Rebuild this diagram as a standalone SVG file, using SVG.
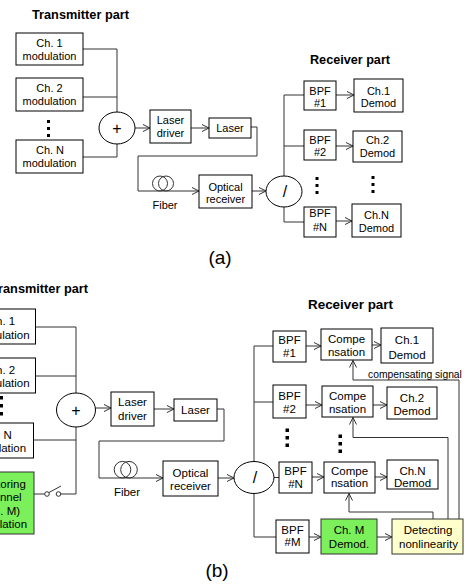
<svg xmlns="http://www.w3.org/2000/svg" width="464" height="585" viewBox="0 0 464 585">
<style>
.box{fill:#fff;stroke:#000;stroke-width:1}
.green{fill:#7cf05a;stroke:#333;stroke-width:1}
.yellow{fill:#ffffcc;stroke:#333;stroke-width:1}
.ln{fill:none;stroke:#333;stroke-width:1}
.arr{marker-end:url(#ah)}
.dot{fill:#000}
text{font-family:"Liberation Sans",Arial,sans-serif;fill:#000}
.t{font-size:11px;text-anchor:middle}
.tb{font-size:11.5px;text-anchor:middle}
.title{font-size:12px;font-weight:bold}
.cap{font-size:19px;text-anchor:middle}
.sym{font-size:16px;text-anchor:middle}
</style>
<defs>
<marker id="ah" markerUnits="userSpaceOnUse" viewBox="0 0 8 8" refX="7.5" refY="4" markerWidth="8" markerHeight="8" orient="auto">
<path d="M0.5,0.5 L7.5,4 L0.5,7.5" fill="none" stroke="#333" stroke-width="1"/>
</marker>
</defs>

<!-- ===== (a) ===== -->
<text class="title" x="32" y="19" textLength="97" lengthAdjust="spacingAndGlyphs">Transmitter part</text>
<text class="title" x="310" y="64" textLength="80" lengthAdjust="spacingAndGlyphs">Receiver part</text>

<g id="a-connectors">
<path class="ln" d="M83,49 H117 V112"/>
<path class="ln" d="M83,97 H117"/>
<path class="ln" d="M83,157 H117 V144"/>
<path class="ln arr" d="M135,128 H150"/>
<path class="ln arr" d="M191,128 H209"/>
<path class="ln arr" d="M251,127 H257 V156 H138 V191 H199"/>
<path class="ln arr" d="M252,191 H266"/>
<path class="ln" d="M284,176 V95 H304"/>
<path class="ln" d="M284,146 H304"/>
<path class="ln" d="M284,207 V222 H304"/>
<path class="ln arr" d="M336,95 H354"/>
<path class="ln arr" d="M336,146 H353"/>
<path class="ln arr" d="M336,221 H352"/>
</g>

<g id="a-ch1mod"><rect class="box" x="16" y="33" width="67" height="32"/><text class="t" x="49.5" y="47">Ch. 1</text><text class="t" x="49.5" y="60">modulation</text></g>
<g id="a-ch2mod"><rect class="box" x="16" y="78" width="67" height="33"/><text class="t" x="49.5" y="92">Ch. 2</text><text class="t" x="49.5" y="105">modulation</text></g>
<g id="a-txdots"><rect class="dot" x="47" y="120" width="3" height="3"/><rect class="dot" x="47" y="127" width="3" height="3"/><rect class="dot" x="47" y="134" width="3" height="3"/></g>
<g id="a-chNmod"><rect class="box" x="16" y="140" width="67" height="33"/><text class="t" x="50" y="154">Ch. N</text><text class="t" x="49.5" y="167">modulation</text></g>
<g id="a-sum"><ellipse class="box" cx="117" cy="128" rx="18" ry="16"/><text class="sym" x="117" y="134">+</text></g>
<g id="a-driver"><rect class="box" x="150" y="110" width="41" height="33"/><text class="t" x="170.5" y="124">Laser</text><text class="t" x="170.5" y="137">driver</text></g>
<g id="a-laser"><rect class="box" x="209" y="118" width="42" height="20"/><text class="t" x="230" y="132">Laser</text></g>
<g id="a-fiber"><circle class="ln" cx="160" cy="183.5" r="7.5"/><circle class="ln" cx="166" cy="183.5" r="7.5"/><text class="t" x="165" y="209">Fiber</text></g>
<g id="a-optrx"><rect class="box" x="199" y="175" width="53" height="33"/><text class="t" x="225.5" y="190.5">Optical</text><text class="t" x="225.5" y="203">receiver</text></g>
<g id="a-split"><ellipse class="box" cx="284" cy="191.5" rx="18" ry="15.5"/><text class="sym" x="285" y="197">/</text></g>
<g id="a-bpf1"><rect class="box" x="304" y="81" width="32" height="29"/><text class="t" x="320" y="94.5">BPF</text><text class="t" x="320" y="106.5">#1</text></g>
<g id="a-bpf2"><rect class="box" x="304" y="130" width="32" height="30"/><text class="t" x="320" y="143.5">BPF</text><text class="t" x="320" y="155.5">#2</text></g>
<g id="a-bpfdots"><rect class="dot" x="315.5" y="177" width="3" height="3"/><rect class="dot" x="315.5" y="184" width="3" height="3"/><rect class="dot" x="315.5" y="191" width="3" height="3"/></g>
<g id="a-bpfN"><rect class="box" x="304" y="207" width="32" height="30"/><text class="t" x="320" y="217">BPF</text><text class="t" x="320" y="231">#N</text></g>
<g id="a-dem1"><rect class="box" x="354" y="79" width="49" height="33"/><text class="t" x="378.5" y="94.5">Ch.1</text><text class="t" x="378.5" y="107">Demod</text></g>
<g id="a-dem2"><rect class="box" x="353" y="131" width="49" height="31"/><text class="t" x="377.5" y="143.5">Ch.2</text><text class="t" x="377.5" y="157">Demod</text></g>
<g id="a-demdots"><rect class="dot" x="371.5" y="176" width="3" height="3"/><rect class="dot" x="371.5" y="183" width="3" height="3"/><rect class="dot" x="371.5" y="190" width="3" height="3"/></g>
<g id="a-demN"><rect class="box" x="352" y="204" width="49" height="33"/><text class="t" x="376.5" y="219">Ch.N</text><text class="t" x="376.5" y="232">Demod</text></g>
<text class="cap" x="220" y="264">(a)</text>

<!-- ===== (b) ===== -->
<text class="title" x="-9" y="293" textLength="97" lengthAdjust="spacingAndGlyphs">Transmitter part</text>
<text class="title" x="308" y="309" textLength="85" lengthAdjust="spacingAndGlyphs">Receiver part</text>

<g id="b-connectors">
<path class="ln" d="M35,327 H76 V393"/>
<path class="ln" d="M35,376 H76"/>
<path class="ln" d="M33.5,440 H76"/>
<path class="ln" d="M76,427 V494 H60.8"/>
<path class="ln" d="M34,494 H44.7"/>
<path class="ln arr" d="M95.5,408 H111"/>
<path class="ln arr" d="M154,409 H174"/>
<path class="ln arr" d="M217,409 H224 V441 H99 V478 H163"/>
<path class="ln arr" d="M218,478 H234"/>
<path class="ln" d="M254,461.5 V346 H273"/>
<path class="ln" d="M254,402 H273"/>
<path class="ln" d="M274,477.5 H279"/>
<path class="ln" d="M254,493.5 V537 H276"/>
<path class="ln arr" d="M306,346 H321"/>
<path class="ln arr" d="M372,345 H381"/>
<path class="ln arr" d="M306,405 H322"/>
<path class="ln arr" d="M373,405 H387"/>
<path class="ln arr" d="M312,477 H324"/>
<path class="ln arr" d="M375,477 H387"/>
<path class="ln arr" d="M309,537 H321"/>
<path class="ln arr" d="M377,537 H392"/>
<path class="ln arr" d="M459,519 V380 H353 V360.5"/>
<path class="ln arr" d="M448,519 V437.5 H353 V417.5"/>
<path class="ln arr" d="M433,519 V512 H349 V493.5"/>
<text x="368" y="377.5" font-size="10.3">compensating signal</text>
</g>

<g id="b-switch"><circle class="ln" cx="47" cy="494" r="2.3"/><circle class="ln" cx="58.5" cy="494" r="2.3"/><path class="ln" d="M48.8,492.6 L61,486"/></g>
<g id="b-ch1mod"><rect class="box" x="-32" y="309" width="67.5" height="35"/><text class="tb" x="1.5" y="324.5">Ch. 1</text><text class="tb" x="1.5" y="338.5">modulation</text></g>
<g id="b-ch2mod"><rect class="box" x="-32" y="358" width="67.5" height="35"/><text class="tb" x="1.5" y="373.5">Ch. 2</text><text class="tb" x="1.5" y="387">modulation</text></g>
<g id="b-txdots"><rect class="dot" x="-0.5" y="396" width="3.5" height="3.5"/><rect class="dot" x="-0.5" y="404" width="3.5" height="3.5"/><rect class="dot" x="-0.5" y="412" width="3.5" height="3.5"/></g>
<g id="b-chNmod"><rect class="box" x="-33" y="423" width="66.5" height="35"/><text class="tb" x="-3" y="438.5">Ch. N</text><text class="tb" x="-2" y="452">modulation</text></g>
<g id="b-monmod"><rect class="green" x="-33" y="472" width="67" height="62"/><text class="tb" x="-1" y="487.5">Monitoring</text><text class="tb" x="1.5" y="501">channel</text><text class="tb" x="1" y="514.5">(Ch. M)</text><text class="tb" x="-1" y="528">modulation</text></g>
<g id="b-sum"><ellipse class="box" cx="76" cy="410" rx="19.5" ry="17"/><text class="sym" x="76" y="416" font-size="17">+</text></g>
<g id="b-driver"><rect class="box" x="111" y="392" width="43" height="34"/><text class="tb" x="132.5" y="406">Laser</text><text class="tb" x="132.5" y="420">driver</text></g>
<g id="b-laser"><rect class="box" x="174" y="399" width="43" height="22"/><text class="tb" x="195.5" y="414">Laser</text></g>
<g id="b-fiber"><circle class="ln" cx="122.5" cy="469.7" r="8.3"/><circle class="ln" cx="129" cy="469.7" r="8.3"/><text class="tb" x="127" y="496">Fiber</text></g>
<g id="b-optrx"><rect class="box" x="163" y="461" width="55" height="35"/><text class="tb" x="190.5" y="476.5">Optical</text><text class="tb" x="190.5" y="490">receiver</text></g>
<g id="b-split"><ellipse class="box" cx="254" cy="477.5" rx="20" ry="16"/><text class="sym" x="255" y="483" font-size="17">/</text></g>
<g id="b-bpf1"><rect class="box" x="273" y="331" width="33" height="31"/><text class="tb" x="289.5" y="344">BPF</text><text class="tb" x="289.5" y="356.5">#1</text></g>
<g id="b-comp1"><rect class="box" x="321" y="329" width="51" height="31"/><text class="tb" x="346.5" y="343">Compe</text><text class="tb" x="346.5" y="355.5">nsation</text></g>
<g id="b-dem1"><rect class="box" x="381" y="328" width="52" height="35"/><text class="tb" x="407" y="344" font-size="12">Ch.1</text><text class="tb" x="407" y="359" font-size="12">Demod</text></g>
<g id="b-bpf2"><rect class="box" x="273" y="385" width="33" height="33"/><text class="tb" x="289.5" y="400">BPF</text><text class="tb" x="289.5" y="412.5">#2</text></g>
<g id="b-comp2"><rect class="box" x="322" y="386" width="51" height="31"/><text class="tb" x="347.5" y="400">Compe</text><text class="tb" x="347.5" y="412.5">nsation</text></g>
<g id="b-dem2"><rect class="box" x="387" y="387" width="50" height="32"/><text class="tb" x="412" y="401.5" font-size="12">Ch.2</text><text class="tb" x="412" y="415" font-size="12">Demod</text></g>
<g id="b-bpfdots"><rect class="dot" x="285.5" y="428.5" width="3.5" height="3.5"/><rect class="dot" x="285.5" y="436" width="3.5" height="3.5"/><rect class="dot" x="285.5" y="443.5" width="3.5" height="3.5"/></g>
<g id="b-compdots"><rect class="dot" x="338.5" y="434.5" width="3.5" height="3.5"/><rect class="dot" x="338.5" y="442" width="3.5" height="3.5"/><rect class="dot" x="338.5" y="449.5" width="3.5" height="3.5"/></g>
<g id="b-bpfN"><rect class="box" x="279" y="462" width="33" height="31"/><text class="tb" x="295.5" y="475">BPF</text><text class="tb" x="295.5" y="487.5">#N</text></g>
<g id="b-compN"><rect class="box" x="324" y="462" width="51" height="31"/><text class="tb" x="349.5" y="474.5">Compe</text><text class="tb" x="349.5" y="487">nsation</text></g>
<g id="b-demN"><rect class="box" x="387" y="460" width="51" height="29"/><text class="tb" x="412.5" y="475" font-size="12">Ch.N</text><text class="tb" x="412.5" y="487" font-size="12">Demod</text></g>
<g id="b-bpfM"><rect class="box" x="276" y="520" width="33" height="33"/><text class="tb" x="292.5" y="533.5">BPF</text><text class="tb" x="292.5" y="546">#M</text></g>
<g id="b-demM"><rect class="green" x="321" y="519" width="56" height="35"/><text class="tb" x="349" y="533.5" font-size="12">Ch. M</text><text class="tb" x="349" y="547.5" font-size="12">Demod.</text></g>
<g id="b-detect"><rect class="yellow" x="392" y="519" width="71" height="35"/><text class="tb" x="428" y="533.5" font-size="12">Detecting</text><text class="tb" x="428.5" y="547.5" font-size="12">nonlinearity</text></g>
<text class="cap" x="217" y="577">(b)</text>
</svg>
